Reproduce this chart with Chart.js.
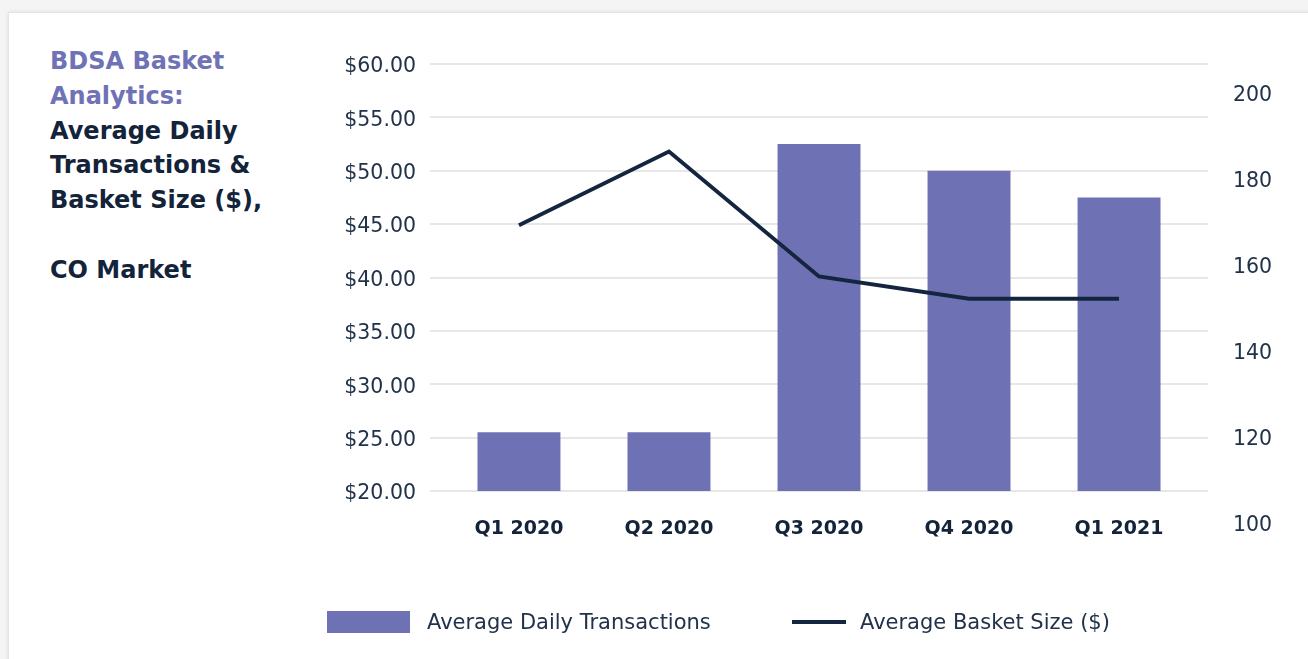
<!DOCTYPE html>
<html>
<head>
<meta charset="utf-8">
<script src="https://cdn.jsdelivr.net/npm/chart.js@4.4.1/dist/chart.umd.min.js"></script>
<style>
  html, body { margin: 0; padding: 0; }
  body { width: 1308px; height: 659px; overflow: hidden; background: #f4f4f4; position: relative; font-family: "DejaVu Sans", sans-serif; }
  #card { position: absolute; left: 8px; top: 12px; width: 1400px; height: 720px; background: #fff; border: 1px solid #e3e3e3; box-shadow: 0 0 4px rgba(0,0,0,0.10); }
  #title { position: absolute; left: 50px; top: 44px; font-weight: bold; font-size: 24px; line-height: 34.8px; color: #13233a; white-space: nowrap; }
  #title .p { color: #6f73b6; }
  #chart { position: absolute; left: 0; top: 0; }
  .lg { position: absolute; font-size: 21px; color: #213249; white-space: nowrap; line-height: 24px; }
  .sw { position: absolute; }
</style>
</head>
<body>
<div id="card"></div>
<div id="title"><span class="p">BDSA Basket<br>Analytics:</span><br>Average Daily<br>Transactions &amp;<br>Basket Size ($),<br><br>CO Market</div>
<canvas id="chart" width="1308" height="659"></canvas>
<div id="legend"></div>
<script>
const categories = ['Q1 2020', 'Q2 2020', 'Q3 2020', 'Q4 2020', 'Q1 2021'];
const avgDailyTransactions = [25.5, 25.5, 52.5, 50.0, 47.5];
const avgBasketSize = [44.9, 51.8, 40.1, 38.0, 38.0];
const rightTickValues = [100, 120, 140, 160, 180, 200];

const barColor = '#6e72b4';
const lineColor = '#14263f';
const textColor = '#213249';

const ctx = document.getElementById('chart').getContext('2d');
const chart = new Chart(ctx, {
  data: {
    datasets: [
      {
        type: 'line',
        label: 'Average Basket Size ($)',
        data: avgBasketSize.map((v, i) => ({ x: i, y: v })),
        yAxisID: 'y',
        borderColor: lineColor,
        backgroundColor: lineColor,
        borderWidth: 4,
        pointRadius: 0,
        tension: 0,
        order: 0
      },
      {
        type: 'bar',
        label: 'Average Daily Transactions',
        data: avgDailyTransactions.map((v, i) => ({ x: i, y: v })),
        yAxisID: 'y',
        backgroundColor: barColor,
        borderWidth: 0,
        categoryPercentage: 1,
        barPercentage: 0.553,
        order: 1
      }
    ]
  },
  options: {
    responsive: false,
    animation: false,
    layout: { padding: { left: 320, right: 0, top: 64, bottom: 108 } },
    plugins: { legend: { display: false }, tooltip: { enabled: false } },
    scales: {
      x: {
        type: 'linear',
        position: 'bottom',
        offset: false,
        min: -0.593,
        max: 4.593,
        grid: { display: false, drawTicks: false, offset: false },
        border: { display: false },
        afterBuildTicks: s => { s.ticks = categories.map((c, i) => ({ value: i })); },
        afterFit: s => { s.height = 60; },
        ticks: {
          autoSkip: false,
          maxRotation: 0,
          padding: 27,
          color: '#13233a',
          font: { family: 'DejaVu Sans', size: 19, weight: 'bold' },
          callback: v => categories[v]
        }
      },
      y: {
        position: 'left',
        min: 20,
        max: 60,
        grid: { color: '#e7e7e7', lineWidth: 2, drawTicks: false },
        border: { display: false },
        afterFit: s => { s.width = 110; },
        ticks: {
          stepSize: 5,
          padding: 14,
          labelOffset: 3,
          color: textColor,
          font: { family: 'DejaVu Sans', size: 20.5 },
          callback: v => '$' + Number(v).toFixed(2)
        }
      },
      y1: {
        position: 'right',
        min: 107.4,
        max: 206.8,
        grid: { display: false, drawTicks: false },
        border: { display: false },
        afterBuildTicks: s => { s.ticks = rightTickValues.map(v => ({ value: v })); },
        afterFit: s => { s.width = 100; },
        ticks: {
          autoSkip: false,
          padding: 25,
          labelOffset: 2.5,
          color: textColor,
          font: { family: 'DejaVu Sans', size: 20.5 },
          callback: v => String(v)
        }
      }
    }
  }
});

// HTML legend built from the chart's datasets
const legend = document.getElementById('legend');
const barDs = chart.data.datasets[1];
const lineDs = chart.data.datasets[0];
legend.innerHTML =
  '<div class="sw" style="left:327px;top:611px;width:83px;height:22px;background:' + barDs.backgroundColor + '"></div>' +
  '<div class="lg" style="left:427px;top:610px">' + barDs.label + '</div>' +
  '<div class="sw" style="left:792px;top:620px;width:54px;height:4px;background:' + lineDs.borderColor + '"></div>' +
  '<div class="lg" style="left:860px;top:610px">' + lineDs.label + '</div>';
</script>
</body>
</html>
